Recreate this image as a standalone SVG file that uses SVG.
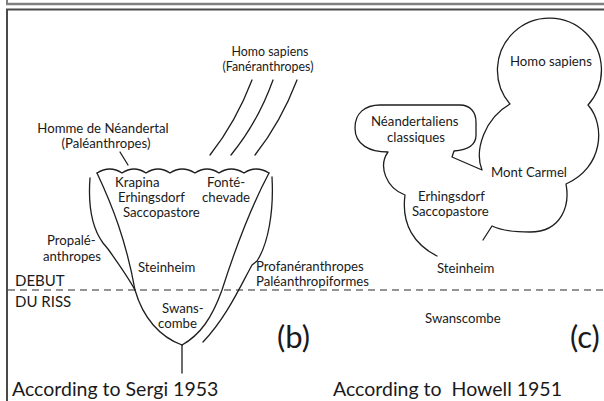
<svg xmlns="http://www.w3.org/2000/svg" width="604" height="401" viewBox="0 0 604 401">
<style>
.frame{fill:none;stroke:#4a4a4a;stroke-width:2}
.ln{fill:none;stroke:#1e1e1e;stroke-width:1.3;stroke-linejoin:round;stroke-linecap:round}
.dash{fill:none;stroke:#2a2a2a;stroke-width:1.2;stroke-dasharray:7 5}
text{font-family:Lato,"Open Sans","Liberation Sans",sans-serif;fill:#1a1a1a;font-size:13.2px}
.sm{font-size:12.4px}
.big{font-size:15px}
.lab{font-size:31px}
.cap{font-size:19.5px}
</style>
<rect width="604" height="401" fill="#ffffff"/>
<g id="frame">
<line x1="7" y1="0" x2="7" y2="4" stroke="#808080" stroke-width="2"/>
<line x1="6" y1="4" x2="604" y2="4" stroke="#808080" stroke-width="2.5"/>
<path class="frame" d="M7,401 L7,9.5 L604,9.5"/>
</g>
<g id="connectors">
<line class="dash" x1="8" y1="290" x2="604" y2="290"/>
<path class="ln" d="M252,80 Q236,122 210,155"/>
<path class="ln" d="M273,80 Q258,122 231,155"/>
<path class="ln" d="M297,80 Q281,122 255,155"/>
<line class="ln" x1="120" y1="152" x2="128" y2="165"/>
<line class="ln" x1="182" y1="345" x2="182" y2="373"/>
</g>
<g id="funnel">
<path class="ln" d="M97,173 Q110,165 122,173 Q134,165 146,173 Q158,165 170,173 Q182,165 195,173 Q207,165 219,173 Q231,165 244,173 Q256,165 269,173"/>
<path class="ln" d="M97,173 C112,205 126,240 135,290 C143,318 160,337 182,345"/>
<path class="ln" d="M269,173 C252,205 238,240 222,290 C212,318 200,335 182,345"/>
</g>
<g id="propaleanthropes">
<path class="ln" d="M90,178 C88,205 92,228 103,243 L108,249 C118,263 128,277 135,290"/>
</g>
<g id="profaneranthropes">
<path class="ln" d="M272,177 C274,212 268,244 257,261 L252,265 C240,287 226,318 203,342"/>
</g>
<g id="howell">
<path class="ln" d="M437,256 C415,245 401,225 405,195 C386,188 378,166 388,152 C370,152 355,145 355,128 C355,113 365,105 380,105 L460,105 C470,105 476,112 476,122 L476,135 C476,145 468,150 454,151 L452,157 L482,170 C474,150 485,118 510,104 A52,52 0 1 1 588,105 C606,125 603,168 566,184 C570,205 562,232 530,232 C515,232 500,230 492,226 L483,240"/>
</g>
<g id="labels-b">
<text class="sm" x="270" y="56" text-anchor="middle">Homo sapiens</text>
<text class="sm" x="268" y="71" text-anchor="middle">(Fanéranthropes)</text>
<text x="103" y="133" text-anchor="middle">Homme de Néandertal</text>
<text x="106" y="148" text-anchor="middle">(Paléanthropes)</text>
<text x="115" y="187">Krapina</text>
<text x="118" y="202">Erhingsdorf</text>
<text x="123" y="217">Saccopastore</text>
<text x="207" y="187">Fonté-</text>
<text x="202" y="202">chevade</text>
<text x="47" y="245">Propalé-</text>
<text x="43" y="261">anthropes</text>
<text x="138" y="272">Steinheim</text>
<text x="256" y="271">Profanéranthropes</text>
<text x="256" y="286">Paléanthropiformes</text>
<text class="big" x="15" y="286">DEBUT</text>
<text class="big" x="15" y="307">DU RISS</text>
<text x="162" y="313">Swans-</text>
<text x="158" y="328">combe</text>
<text class="lab" x="277" y="348">(b)</text>
<text class="cap" x="12" y="396">According to Sergi 1953</text>
</g>
<g id="labels-c">
<text x="510" y="66">Homo sapiens</text>
<text x="371" y="126">Néandertaliens</text>
<text x="387" y="142">classiques</text>
<text x="491" y="177">Mont Carmel</text>
<text x="418" y="201">Erhingsdorf</text>
<text x="412" y="216">Saccopastore</text>
<text x="437" y="273">Steinheim</text>
<text x="425" y="323">Swanscombe</text>
<text class="lab" x="570" y="348">(c)</text>
<text class="cap" x="333" y="396" xml:space="preserve">According to  Howell 1951</text>
</g>
</svg>
